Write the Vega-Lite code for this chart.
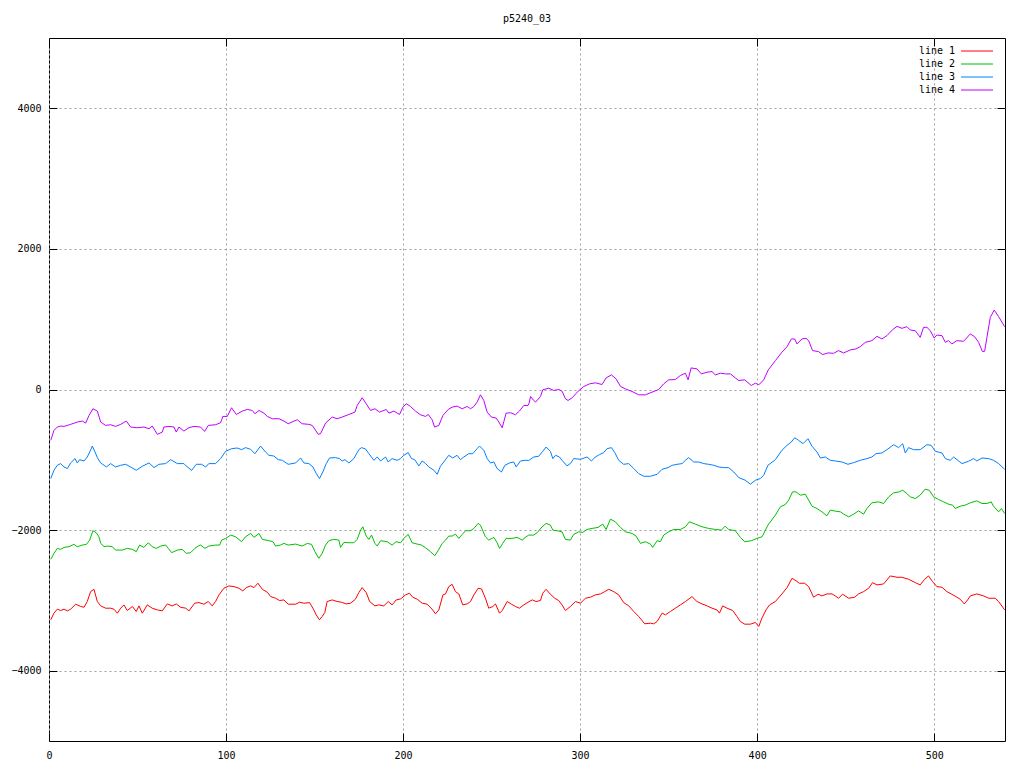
{
"$schema":"https://vega.github.io/schema/vega-lite/v6.json",
"width":956,"height":703,
"autosize":"none",
"padding":{"left":49,"top":38,"right":19,"bottom":27},
"background":"white",
"title":{"text":"p5240_03","fontSize":10,"fontWeight":"normal","font":"DejaVu Sans Mono","color":"black","offset":14},
"config":{"view":{"stroke":"black","strokeWidth":1},"font":"DejaVu Sans Mono",
 "axis":{"title":null,"grid":true,"gridColor":"#a0a0a0","gridDash":[2,3],"gridWidth":1,"domain":false,"tickColor":"black","tickSize":-8,"labelFontSize":10,"labelColor":"black","labelFont":"DejaVu Sans Mono"},
 "legend":{"orient":"none","legendX":923,"legendY":8,"symbolType":"M-4,0H4","symbolSize":64,"symbolStrokeWidth":1,"labelAlign":"right","labelOffset":-27,"labelFontSize":10,"labelFont":"DejaVu Sans Mono","labelColor":"black","rowPadding":3,"padding":0,"title":null}},
"datasets":{
"l1":[{"x":1,"y":-3276},{"x":2.8,"y":-3182},{"x":4.7,"y":-3125},{"x":6.6,"y":-3144},{"x":8.5,"y":-3125},{"x":10.4,"y":-3149},{"x":12.2,"y":-3125},{"x":15.1,"y":-3054},{"x":17.9,"y":-3087},{"x":19.8,"y":-3097},{"x":21.6,"y":-3016},{"x":23.5,"y":-2875},{"x":25.4,"y":-2842},{"x":27.3,"y":-3016},{"x":29.2,"y":-3078},{"x":32,"y":-3111},{"x":34.8,"y":-3111},{"x":36.7,"y":-3125},{"x":38.6,"y":-3182},{"x":40.5,"y":-3111},{"x":42.3,"y":-3064},{"x":44.2,"y":-3144},{"x":47.1,"y":-3087},{"x":49.3,"y":-3158},{"x":50.8,"y":-3078},{"x":52.7,"y":-3182},{"x":55.5,"y":-3064},{"x":58.3,"y":-3111},{"x":61.2,"y":-3135},{"x":64,"y":-3149},{"x":66.8,"y":-3050},{"x":69.6,"y":-3078},{"x":71.9,"y":-3050},{"x":74.3,"y":-3097},{"x":77.2,"y":-3111},{"x":79.1,"y":-3149},{"x":82.3,"y":-3040},{"x":84.7,"y":-3031},{"x":87.5,"y":-3054},{"x":90,"y":-3016},{"x":92.2,"y":-3078},{"x":94.1,"y":-3016},{"x":96,"y":-2922},{"x":98.8,"y":-2827},{"x":101.6,"y":-2794},{"x":104.5,"y":-2804},{"x":107.3,"y":-2827},{"x":109.5,"y":-2865},{"x":111.4,"y":-2818},{"x":113.9,"y":-2794},{"x":115.8,"y":-2818},{"x":118,"y":-2756},{"x":120.5,"y":-2842},{"x":123.3,"y":-2884},{"x":125.2,"y":-2946},{"x":128,"y":-2969},{"x":130.2,"y":-3002},{"x":132.7,"y":-2993},{"x":135.1,"y":-3054},{"x":139.3,"y":-3054},{"x":141.5,"y":-3026},{"x":144,"y":-3040},{"x":147.2,"y":-3031},{"x":149.6,"y":-3135},{"x":150.9,"y":-3205},{"x":152.8,"y":-3276},{"x":154.3,"y":-3229},{"x":155.8,"y":-3172},{"x":157.1,"y":-3016},{"x":160,"y":-2993},{"x":162.8,"y":-3016},{"x":165.2,"y":-3026},{"x":167.9,"y":-3050},{"x":170.3,"y":-3040},{"x":173.1,"y":-2983},{"x":175,"y":-2889},{"x":176.9,"y":-2818},{"x":179.2,"y":-2889},{"x":181.1,"y":-3016},{"x":184.1,"y":-3078},{"x":186.3,"y":-3064},{"x":189.1,"y":-3078},{"x":191.6,"y":-3016},{"x":193.8,"y":-3064},{"x":196.1,"y":-2993},{"x":198.6,"y":-2979},{"x":201.4,"y":-2922},{"x":203.6,"y":-2898},{"x":205.5,"y":-2955},{"x":208,"y":-2983},{"x":210.8,"y":-3040},{"x":213.6,"y":-3054},{"x":216.4,"y":-3125},{"x":218.3,"y":-3191},{"x":220.2,"y":-3135},{"x":222.5,"y":-2922},{"x":224,"y":-2908},{"x":225.8,"y":-2804},{"x":227.7,"y":-2771},{"x":229.6,"y":-2875},{"x":231.5,"y":-2908},{"x":233.7,"y":-3064},{"x":236.2,"y":-3050},{"x":238.1,"y":-3016},{"x":240,"y":-2922},{"x":242.4,"y":-2827},{"x":244.3,"y":-2837},{"x":246.5,"y":-2969},{"x":248.4,"y":-3111},{"x":250.7,"y":-3087},{"x":252.2,"y":-3050},{"x":254.5,"y":-3182},{"x":256,"y":-3144},{"x":258.8,"y":-3016},{"x":261.2,"y":-3054},{"x":263.5,"y":-3087},{"x":265.7,"y":-3111},{"x":268.2,"y":-3064},{"x":270.6,"y":-3026},{"x":273,"y":-2993},{"x":275.1,"y":-3016},{"x":277.6,"y":-3002},{"x":278.9,"y":-2898},{"x":280.8,"y":-2842},{"x":283.2,"y":-2912},{"x":285.7,"y":-2969},{"x":287.9,"y":-3002},{"x":289.8,"y":-3064},{"x":291.7,"y":-3144},{"x":294.5,"y":-3087},{"x":297.4,"y":-3016},{"x":300.2,"y":-3040},{"x":303,"y":-2969},{"x":305.8,"y":-2955},{"x":308.6,"y":-2922},{"x":311.5,"y":-2908},{"x":313.9,"y":-2875},{"x":316.2,"y":-2842},{"x":319,"y":-2875},{"x":321.8,"y":-2922},{"x":324.6,"y":-3031},{"x":327.5,"y":-3078},{"x":330.3,"y":-3158},{"x":333.1,"y":-3229},{"x":336.5,"y":-3333},{"x":339.7,"y":-3324},{"x":341.6,"y":-3333},{"x":343.5,"y":-3300},{"x":346.3,"y":-3182},{"x":348.2,"y":-3205},{"x":351,"y":-3158},{"x":353.8,"y":-3111},{"x":356.6,"y":-3064},{"x":359.5,"y":-3016},{"x":363.2,"y":-2946},{"x":366,"y":-3016},{"x":368.9,"y":-3050},{"x":371.7,"y":-3078},{"x":374.5,"y":-3111},{"x":377.3,"y":-3135},{"x":378.7,"y":-3182},{"x":380.5,"y":-3078},{"x":383,"y":-3111},{"x":386.2,"y":-3144},{"x":388.6,"y":-3229},{"x":390.5,"y":-3300},{"x":393,"y":-3338},{"x":396.2,"y":-3338},{"x":399,"y":-3314},{"x":400.9,"y":-3371},{"x":402.7,"y":-3253},{"x":405,"y":-3135},{"x":407,"y":-3064},{"x":410.3,"y":-3016},{"x":414,"y":-2908},{"x":416.9,"y":-2818},{"x":419.7,"y":-2686},{"x":421.9,"y":-2719},{"x":423.8,"y":-2756},{"x":426.8,"y":-2756},{"x":429.1,"y":-2804},{"x":431.9,"y":-2955},{"x":434.4,"y":-2912},{"x":436.6,"y":-2936},{"x":439.4,"y":-2908},{"x":442.3,"y":-2908},{"x":444.1,"y":-2936},{"x":446,"y":-2969},{"x":448.3,"y":-2912},{"x":451.7,"y":-2969},{"x":455.1,"y":-2955},{"x":457.3,"y":-2908},{"x":460.1,"y":-2875},{"x":463,"y":-2827},{"x":465.2,"y":-2747},{"x":467.7,"y":-2780},{"x":471.4,"y":-2766},{"x":475.2,"y":-2652},{"x":479,"y":-2671},{"x":481.8,"y":-2671},{"x":485.6,"y":-2700},{"x":489.3,"y":-2747},{"x":492.1,"y":-2780},{"x":494.6,"y":-2700},{"x":496.8,"y":-2652},{"x":499.1,"y":-2733},{"x":501.5,"y":-2804},{"x":504.4,"y":-2813},{"x":507.2,"y":-2875},{"x":509.6,"y":-2908},{"x":512.3,"y":-2946},{"x":514.7,"y":-2983},{"x":517,"y":-3050},{"x":518.9,"y":-2993},{"x":520.4,"y":-2936},{"x":524.1,"y":-2908},{"x":527.9,"y":-2936},{"x":530.7,"y":-2969},{"x":534.5,"y":-2969},{"x":536.4,"y":-3016},{"x":539.8,"y":-3135}],
"l2":[{"x":1,"y":-2416},{"x":2.8,"y":-2331},{"x":4.7,"y":-2260},{"x":6.6,"y":-2274},{"x":8.5,"y":-2246},{"x":11.3,"y":-2236},{"x":14.1,"y":-2203},{"x":16,"y":-2236},{"x":18.8,"y":-2213},{"x":21.1,"y":-2203},{"x":23,"y":-2142},{"x":24.8,"y":-2009},{"x":26.7,"y":-2038},{"x":28.2,"y":-2095},{"x":29.2,"y":-2189},{"x":31.1,"y":-2236},{"x":32.9,"y":-2227},{"x":35.8,"y":-2236},{"x":37.6,"y":-2284},{"x":41.4,"y":-2284},{"x":44.2,"y":-2260},{"x":47.1,"y":-2274},{"x":49.3,"y":-2307},{"x":51.2,"y":-2213},{"x":53.6,"y":-2246},{"x":56.1,"y":-2180},{"x":58.3,"y":-2236},{"x":60.6,"y":-2260},{"x":63.1,"y":-2227},{"x":65.9,"y":-2213},{"x":67.4,"y":-2260},{"x":69.3,"y":-2321},{"x":72.5,"y":-2284},{"x":75.3,"y":-2274},{"x":77.5,"y":-2331},{"x":80,"y":-2321},{"x":82.4,"y":-2260},{"x":84.3,"y":-2227},{"x":85.6,"y":-2213},{"x":88.1,"y":-2260},{"x":90.3,"y":-2227},{"x":94.1,"y":-2213},{"x":96.4,"y":-2213},{"x":97.5,"y":-2142},{"x":99.8,"y":-2118},{"x":102.6,"y":-2071},{"x":105.4,"y":-2095},{"x":108.8,"y":-2165},{"x":111,"y":-2095},{"x":113.9,"y":-2047},{"x":115.8,"y":-2104},{"x":118.6,"y":-2047},{"x":120.5,"y":-2132},{"x":124.2,"y":-2151},{"x":126.5,"y":-2165},{"x":128,"y":-2227},{"x":130.8,"y":-2213},{"x":132.7,"y":-2189},{"x":135.1,"y":-2213},{"x":139.3,"y":-2199},{"x":143,"y":-2227},{"x":145.9,"y":-2189},{"x":148.3,"y":-2203},{"x":150.2,"y":-2307},{"x":152.4,"y":-2402},{"x":154.3,"y":-2331},{"x":156.2,"y":-2213},{"x":158.1,"y":-2151},{"x":160.9,"y":-2132},{"x":163.7,"y":-2142},{"x":164.7,"y":-2246},{"x":166.6,"y":-2175},{"x":169.4,"y":-2180},{"x":172.2,"y":-2180},{"x":174.1,"y":-2132},{"x":176,"y":-2000},{"x":177.3,"y":-1953},{"x":179.2,"y":-2085},{"x":180.7,"y":-2132},{"x":182.2,"y":-2071},{"x":184.1,"y":-2189},{"x":185.4,"y":-2227},{"x":187.3,"y":-2151},{"x":191,"y":-2165},{"x":193.8,"y":-2213},{"x":196.1,"y":-2165},{"x":198.6,"y":-2180},{"x":200.4,"y":-2118},{"x":202.9,"y":-2061},{"x":205.1,"y":-2180},{"x":208,"y":-2199},{"x":210.4,"y":-2213},{"x":212.7,"y":-2251},{"x":215.5,"y":-2307},{"x":217.9,"y":-2364},{"x":219.8,"y":-2293},{"x":222.1,"y":-2189},{"x":224,"y":-2142},{"x":225.8,"y":-2085},{"x":227.7,"y":-2085},{"x":229.6,"y":-2057},{"x":231.5,"y":-2118},{"x":233.4,"y":-2061},{"x":235.3,"y":-2009},{"x":238.1,"y":-2009},{"x":240,"y":-1976},{"x":242.4,"y":-1905},{"x":243.7,"y":-1929},{"x":246.5,"y":-2095},{"x":248.4,"y":-2142},{"x":251.3,"y":-2104},{"x":253.1,"y":-2180},{"x":254.5,"y":-2260},{"x":256.3,"y":-2189},{"x":258.2,"y":-2118},{"x":261.6,"y":-2118},{"x":264.4,"y":-2104},{"x":267.3,"y":-2142},{"x":269.5,"y":-2095},{"x":271,"y":-2071},{"x":273.8,"y":-2071},{"x":275.7,"y":-2038},{"x":278.5,"y":-1953},{"x":280.8,"y":-1905},{"x":283.2,"y":-1929},{"x":284.6,"y":-2000},{"x":287,"y":-2009},{"x":289.8,"y":-2024},{"x":291.7,"y":-2132},{"x":294.5,"y":-2142},{"x":296.4,"y":-2061},{"x":299.2,"y":-2024},{"x":301.5,"y":-2033},{"x":303.9,"y":-1991},{"x":306.8,"y":-1976},{"x":310.1,"y":-1962},{"x":312.8,"y":-1915},{"x":314.7,"y":-1991},{"x":317.1,"y":-1844},{"x":319.9,"y":-1882},{"x":322.8,"y":-1962},{"x":325.6,"y":-2024},{"x":329.3,"y":-2047},{"x":331.6,"y":-2085},{"x":334.1,"y":-2189},{"x":336.9,"y":-2165},{"x":339.7,"y":-2199},{"x":341,"y":-2246},{"x":343.5,"y":-2151},{"x":345.3,"y":-2165},{"x":347.2,"y":-2071},{"x":350,"y":-2024},{"x":352.9,"y":-1991},{"x":356.6,"y":-1991},{"x":359.5,"y":-1953},{"x":361.7,"y":-1882},{"x":365.1,"y":-1915},{"x":368.9,"y":-1953},{"x":372.6,"y":-1976},{"x":376.4,"y":-1991},{"x":379.8,"y":-2000},{"x":382,"y":-1943},{"x":383.9,"y":-1991},{"x":387.7,"y":-2009},{"x":390.5,"y":-2104},{"x":393,"y":-2165},{"x":396.7,"y":-2151},{"x":399.9,"y":-2118},{"x":402.8,"y":-2095},{"x":406.1,"y":-1929},{"x":410.3,"y":-1787},{"x":413.1,"y":-1669},{"x":415.9,"y":-1636},{"x":417.8,"y":-1574},{"x":420,"y":-1456},{"x":421.9,"y":-1456},{"x":424.4,"y":-1503},{"x":427.2,"y":-1489},{"x":429.1,"y":-1574},{"x":431,"y":-1660},{"x":433.8,"y":-1693},{"x":436.6,"y":-1740},{"x":439.4,"y":-1797},{"x":441.3,"y":-1716},{"x":444.1,"y":-1730},{"x":447,"y":-1740},{"x":448.9,"y":-1773},{"x":451.7,"y":-1811},{"x":454.5,"y":-1773},{"x":457.3,"y":-1726},{"x":460.1,"y":-1773},{"x":462,"y":-1693},{"x":464.8,"y":-1612},{"x":468.6,"y":-1598},{"x":471.4,"y":-1622},{"x":474.3,"y":-1527},{"x":477.1,"y":-1470},{"x":480.3,"y":-1456},{"x":482.2,"y":-1433},{"x":484.1,"y":-1470},{"x":486.5,"y":-1527},{"x":489.3,"y":-1551},{"x":492.1,"y":-1503},{"x":494.9,"y":-1418},{"x":497.2,"y":-1433},{"x":499.7,"y":-1527},{"x":502.5,"y":-1565},{"x":505.3,"y":-1598},{"x":508.1,"y":-1631},{"x":510.4,"y":-1645},{"x":511.9,"y":-1693},{"x":514.7,"y":-1660},{"x":517.5,"y":-1645},{"x":520.4,"y":-1612},{"x":524.1,"y":-1584},{"x":527,"y":-1622},{"x":529.8,"y":-1622},{"x":532.2,"y":-1598},{"x":533.5,"y":-1660},{"x":536.4,"y":-1740},{"x":538,"y":-1693},{"x":539.8,"y":-1764}],
"l3":[{"x":1,"y":-1267},{"x":2.8,"y":-1149},{"x":4.7,"y":-1078},{"x":6.6,"y":-1054},{"x":8.5,"y":-1102},{"x":10.4,"y":-1125},{"x":12.2,"y":-1045},{"x":14.7,"y":-983},{"x":16,"y":-1045},{"x":17.3,"y":-998},{"x":19.8,"y":-1017},{"x":21.6,"y":-960},{"x":23,"y":-889},{"x":24.5,"y":-804},{"x":26,"y":-889},{"x":27.3,"y":-969},{"x":29.2,"y":-1045},{"x":32.4,"y":-1102},{"x":34.8,"y":-1054},{"x":37.6,"y":-1102},{"x":40.5,"y":-1078},{"x":43.3,"y":-1064},{"x":46.1,"y":-1102},{"x":49.3,"y":-1149},{"x":52.7,"y":-1092},{"x":56.5,"y":-1045},{"x":59.3,"y":-1111},{"x":62.1,"y":-1064},{"x":65.9,"y":-1054},{"x":68.7,"y":-998},{"x":72.5,"y":-1054},{"x":76.2,"y":-1054},{"x":78.1,"y":-1102},{"x":80.6,"y":-1149},{"x":83.2,"y":-1064},{"x":86.2,"y":-1064},{"x":88.5,"y":-1102},{"x":90.3,"y":-1054},{"x":94.1,"y":-1054},{"x":96.9,"y":-983},{"x":99.8,"y":-879},{"x":103.1,"y":-842},{"x":106.3,"y":-832},{"x":108.8,"y":-856},{"x":111,"y":-827},{"x":113.9,"y":-851},{"x":116.3,"y":-913},{"x":119.5,"y":-804},{"x":122.3,"y":-889},{"x":124.2,"y":-936},{"x":127,"y":-946},{"x":129.5,"y":-998},{"x":131.8,"y":-1007},{"x":135.1,"y":-1064},{"x":139.3,"y":-1045},{"x":142.1,"y":-974},{"x":144,"y":-1045},{"x":146.8,"y":-1054},{"x":149.1,"y":-1102},{"x":151,"y":-1196},{"x":152.8,"y":-1267},{"x":154.7,"y":-1173},{"x":156.6,"y":-1054},{"x":158.5,"y":-974},{"x":161.8,"y":-969},{"x":164.1,"y":-983},{"x":165.6,"y":-1017},{"x":167.1,"y":-998},{"x":169.4,"y":-1045},{"x":172.2,"y":-983},{"x":175,"y":-856},{"x":176.5,"y":-827},{"x":178.8,"y":-846},{"x":180.7,"y":-913},{"x":183.5,"y":-1007},{"x":185.4,"y":-960},{"x":187.3,"y":-1017},{"x":190.1,"y":-960},{"x":191.6,"y":-1031},{"x":193.8,"y":-983},{"x":196.7,"y":-1007},{"x":198.6,"y":-983},{"x":200.4,"y":-936},{"x":202.9,"y":-898},{"x":204.8,"y":-983},{"x":206.6,"y":-998},{"x":208.9,"y":-1087},{"x":210.8,"y":-1017},{"x":212.7,"y":-1054},{"x":214.6,"y":-1102},{"x":217.4,"y":-1149},{"x":219.3,"y":-1206},{"x":221.1,"y":-1092},{"x":223,"y":-1031},{"x":225.8,"y":-936},{"x":228.1,"y":-974},{"x":230.5,"y":-936},{"x":232.4,"y":-998},{"x":234.3,"y":-960},{"x":237.1,"y":-913},{"x":239.4,"y":-913},{"x":241.8,"y":-842},{"x":243.2,"y":-804},{"x":245.6,"y":-865},{"x":247.5,"y":-983},{"x":249.4,"y":-1045},{"x":251.3,"y":-1031},{"x":253.1,"y":-1125},{"x":255.6,"y":-1173},{"x":257.5,"y":-1078},{"x":260.1,"y":-1045},{"x":262.5,"y":-1031},{"x":263.9,"y":-1102},{"x":266.3,"y":-1017},{"x":269.1,"y":-1007},{"x":271,"y":-1010},{"x":273.8,"y":-960},{"x":276.6,"y":-950},{"x":278.9,"y":-879},{"x":280.8,"y":-818},{"x":283.2,"y":-879},{"x":284.6,"y":-983},{"x":286.1,"y":-936},{"x":288.3,"y":-960},{"x":289.8,"y":-1007},{"x":292.6,"y":-1087},{"x":294.5,"y":-1054},{"x":296.4,"y":-983},{"x":300.2,"y":-993},{"x":303.9,"y":-960},{"x":306.4,"y":-1017},{"x":308.6,"y":-960},{"x":310.9,"y":-927},{"x":313.3,"y":-898},{"x":315.2,"y":-842},{"x":317.7,"y":-827},{"x":319.6,"y":-898},{"x":321.8,"y":-1007},{"x":324.6,"y":-1064},{"x":327.5,"y":-1054},{"x":330.3,"y":-1125},{"x":333.1,"y":-1196},{"x":335.9,"y":-1234},{"x":339.7,"y":-1234},{"x":343.5,"y":-1206},{"x":346.3,"y":-1135},{"x":349.7,"y":-1111},{"x":352,"y":-1078},{"x":354.8,"y":-1064},{"x":357.6,"y":-1054},{"x":359.5,"y":-1007},{"x":361.3,"y":-969},{"x":364.2,"y":-1031},{"x":367,"y":-1031},{"x":369.8,"y":-1054},{"x":372.6,"y":-1064},{"x":375.5,"y":-1078},{"x":378.3,"y":-1102},{"x":381.1,"y":-1111},{"x":383.9,"y":-1111},{"x":386.8,"y":-1173},{"x":389.6,"y":-1253},{"x":393.3,"y":-1291},{"x":396.2,"y":-1347},{"x":399,"y":-1291},{"x":401.8,"y":-1267},{"x":403.7,"y":-1220},{"x":406.1,"y":-1078},{"x":410.3,"y":-998},{"x":414,"y":-865},{"x":416.9,"y":-794},{"x":419.3,"y":-747},{"x":421.2,"y":-686},{"x":423.4,"y":-723},{"x":425.9,"y":-771},{"x":428.7,"y":-700},{"x":431,"y":-808},{"x":433.8,"y":-889},{"x":435.7,"y":-974},{"x":438.5,"y":-960},{"x":441.3,"y":-1007},{"x":444.1,"y":-1017},{"x":447.9,"y":-1031},{"x":451.3,"y":-1064},{"x":454.5,"y":-1040},{"x":458.3,"y":-1007},{"x":462,"y":-983},{"x":464.8,"y":-960},{"x":467.1,"y":-913},{"x":470.5,"y":-903},{"x":473.3,"y":-856},{"x":477.1,"y":-785},{"x":479.9,"y":-827},{"x":482.2,"y":-771},{"x":483.7,"y":-903},{"x":485.5,"y":-827},{"x":488.4,"y":-856},{"x":492.1,"y":-856},{"x":495.9,"y":-785},{"x":498.3,"y":-794},{"x":500.6,"y":-879},{"x":504.4,"y":-903},{"x":506.3,"y":-983},{"x":509.1,"y":-1007},{"x":511,"y":-960},{"x":513.8,"y":-1017},{"x":515.7,"y":-1054},{"x":519.4,"y":-1021},{"x":522.3,"y":-983},{"x":524.1,"y":-1017},{"x":527,"y":-974},{"x":530.7,"y":-983},{"x":533.5,"y":-1007},{"x":536.4,"y":-1054},{"x":539.8,"y":-1135}],
"l4":[{"x":1,"y":-723},{"x":2.8,"y":-582},{"x":4.7,"y":-534},{"x":6.6,"y":-520},{"x":8.5,"y":-525},{"x":12.2,"y":-496},{"x":16,"y":-463},{"x":18.8,"y":-449},{"x":20.7,"y":-478},{"x":22.6,"y":-369},{"x":24.8,"y":-274},{"x":27.3,"y":-307},{"x":29.2,"y":-463},{"x":32,"y":-511},{"x":34.8,"y":-501},{"x":37.6,"y":-525},{"x":40.5,"y":-496},{"x":43.7,"y":-449},{"x":46.1,"y":-534},{"x":49.9,"y":-544},{"x":53.6,"y":-534},{"x":56.5,"y":-558},{"x":58.3,"y":-520},{"x":61.2,"y":-638},{"x":64,"y":-605},{"x":64.9,"y":-534},{"x":67.8,"y":-525},{"x":70.6,"y":-534},{"x":71.9,"y":-605},{"x":73.4,"y":-534},{"x":76.2,"y":-591},{"x":79,"y":-544},{"x":81.9,"y":-525},{"x":85.6,"y":-534},{"x":87.9,"y":-596},{"x":90,"y":-511},{"x":94.1,"y":-501},{"x":96.9,"y":-473},{"x":98.2,"y":-383},{"x":100.7,"y":-383},{"x":103.1,"y":-260},{"x":105.8,"y":-355},{"x":109.2,"y":-307},{"x":112,"y":-284},{"x":114.8,"y":-298},{"x":116.3,"y":-345},{"x":118.6,"y":-298},{"x":121.4,"y":-336},{"x":123.3,"y":-383},{"x":126.1,"y":-416},{"x":129.9,"y":-416},{"x":132.7,"y":-449},{"x":135.1,"y":-487},{"x":140.2,"y":-430},{"x":143,"y":-487},{"x":146.8,"y":-496},{"x":148.7,"y":-511},{"x":152.1,"y":-638},{"x":153.4,"y":-628},{"x":156.2,"y":-478},{"x":160,"y":-392},{"x":162.8,"y":-416},{"x":165.6,"y":-392},{"x":169.4,"y":-355},{"x":172.8,"y":-322},{"x":174.1,"y":-227},{"x":176.9,"y":-118},{"x":179.2,"y":-203},{"x":181.6,"y":-298},{"x":184.1,"y":-274},{"x":186.7,"y":-322},{"x":190.5,"y":-284},{"x":192,"y":-336},{"x":194.8,"y":-307},{"x":198,"y":-355},{"x":199.9,"y":-251},{"x":201.8,"y":-203},{"x":204.2,"y":-241},{"x":207,"y":-307},{"x":209.8,"y":-359},{"x":212.7,"y":-383},{"x":214.2,"y":-355},{"x":216.4,"y":-430},{"x":217.8,"y":-534},{"x":220.2,"y":-511},{"x":222.5,"y":-369},{"x":225.5,"y":-284},{"x":227.7,"y":-251},{"x":230.5,"y":-236},{"x":233.4,"y":-274},{"x":236.2,"y":-241},{"x":238.1,"y":-274},{"x":240,"y":-241},{"x":241.8,"y":-180},{"x":243.7,"y":-76},{"x":245.6,"y":-156},{"x":247.5,"y":-322},{"x":249.9,"y":-392},{"x":252.6,"y":-407},{"x":254.1,"y":-463},{"x":256,"y":-544},{"x":258.2,"y":-336},{"x":260.7,"y":-331},{"x":263.5,"y":-359},{"x":265.7,"y":-307},{"x":268.2,"y":-227},{"x":270.6,"y":-227},{"x":271.2,"y":-194},{"x":272,"y":-99},{"x":273.8,"y":-156},{"x":274.8,"y":-180},{"x":277.6,"y":-99},{"x":278.9,"y":-5},{"x":282.3,"y":19},{"x":285.1,"y":-14},{"x":288,"y":0},{"x":289.8,"y":-24},{"x":291.7,"y":-132},{"x":293.2,"y":-156},{"x":295.5,"y":-118},{"x":298.9,"y":-24},{"x":302.1,"y":43},{"x":305.3,"y":80},{"x":308.6,"y":95},{"x":312.4,"y":71},{"x":314.7,"y":165},{"x":317.7,"y":208},{"x":320.3,"y":151},{"x":322.8,"y":43},{"x":325.6,"y":9},{"x":329.3,"y":-28},{"x":333.1,"y":-76},{"x":336.9,"y":-76},{"x":340.6,"y":-38},{"x":344.4,"y":0},{"x":347.2,"y":80},{"x":350,"y":137},{"x":353.8,"y":142},{"x":356.6,"y":199},{"x":359.5,"y":232},{"x":361,"y":137},{"x":362.7,"y":307},{"x":366,"y":293},{"x":368.5,"y":222},{"x":371.7,"y":246},{"x":374.5,"y":255},{"x":376.4,"y":208},{"x":379.2,"y":232},{"x":382,"y":222},{"x":384.9,"y":222},{"x":387.7,"y":165},{"x":389.6,"y":128},{"x":393,"y":137},{"x":396.7,"y":57},{"x":399,"y":90},{"x":400.9,"y":66},{"x":403.7,"y":137},{"x":406.3,"y":280},{"x":410.3,"y":411},{"x":414,"y":530},{"x":416.9,"y":610},{"x":419.3,"y":719},{"x":421.2,"y":719},{"x":422.5,"y":648},{"x":425.3,"y":719},{"x":427.6,"y":728},{"x":429.1,"y":695},{"x":431.3,"y":553},{"x":434.7,"y":539},{"x":437,"y":496},{"x":440,"y":520},{"x":443.2,"y":515},{"x":446,"y":553},{"x":448.9,"y":520},{"x":452.6,"y":563},{"x":455.8,"y":577},{"x":458.3,"y":610},{"x":461.1,"y":671},{"x":464.8,"y":695},{"x":467.7,"y":756},{"x":470.5,"y":719},{"x":473.3,"y":766},{"x":476.5,"y":851},{"x":479,"y":898},{"x":481.8,"y":870},{"x":484.6,"y":894},{"x":486.5,"y":846},{"x":489.3,"y":837},{"x":492.1,"y":742},{"x":494,"y":884},{"x":495.9,"y":884},{"x":497.8,"y":837},{"x":500,"y":733},{"x":501.5,"y":775},{"x":504.4,"y":766},{"x":506.3,"y":671},{"x":508.1,"y":695},{"x":510,"y":648},{"x":512.8,"y":695},{"x":516.6,"y":686},{"x":520.4,"y":790},{"x":522.8,"y":752},{"x":525.1,"y":671},{"x":527.3,"y":539},{"x":528.5,"y":544},{"x":529.8,"y":742},{"x":531.7,"y":1026},{"x":533.9,"y":1130},{"x":536.4,"y":1036},{"x":539.8,"y":894}]
},
"resolve":{"axis":{"x":"independent","y":"independent"}},
"layer":[
 {"data":{"name":"l1"},"mark":{"type":"line","strokeWidth":1},"encoding":{
   "x":{"field":"x","type":"quantitative","scale":{"domain":[0,540],"nice":false,"zero":false},"axis":{"orient":"bottom","values":[0,100,200,300,400,500],"labelPadding":17,"labelFlush":false}},
   "y":{"field":"y","type":"quantitative","scale":{"domain":[-5000,5000],"nice":false},"axis":{"orient":"left","values":[-4000,-2000,0,2000,4000],"format":"d","labelPadding":16}},
   "color":{"datum":"line 1","type":"nominal","scale":{"domain":["line 1","line 2","line 3","line 4"],"range":["#ff0000","#00c000","#0080ff","#c000ff"]}}}},
 {"data":{"name":"l2"},"mark":{"type":"line","strokeWidth":1},"encoding":{
   "x":{"field":"x","type":"quantitative","axis":{"orient":"top","values":[0,100,200,300,400,500],"labels":false,"grid":false}},
   "y":{"field":"y","type":"quantitative","axis":{"orient":"right","values":[-4000,-2000,0,2000,4000],"labels":false,"grid":false}},
   "color":{"datum":"line 2","type":"nominal"}}},
 {"data":{"name":"l3"},"mark":{"type":"line","strokeWidth":1},"encoding":{
   "x":{"field":"x","type":"quantitative","axis":null},
   "y":{"field":"y","type":"quantitative","axis":null},
   "color":{"datum":"line 3","type":"nominal"}}},
 {"data":{"name":"l4"},"mark":{"type":"line","strokeWidth":1},"encoding":{
   "x":{"field":"x","type":"quantitative","axis":null},
   "y":{"field":"y","type":"quantitative","axis":null},
   "color":{"datum":"line 4","type":"nominal"}}}
]
}
